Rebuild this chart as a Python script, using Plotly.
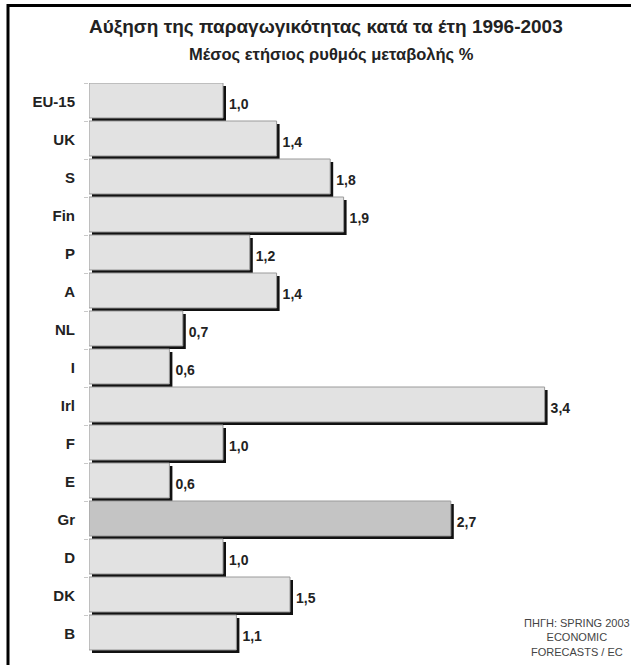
import plotly.graph_objects as go

categories = ["EU-15", "UK", "S", "Fin", "P", "A", "NL", "I", "Irl", "F", "E", "Gr", "D", "DK", "B"]
values = [1.0, 1.4, 1.8, 1.9, 1.2, 1.4, 0.7, 0.6, 3.4, 1.0, 0.6, 2.7, 1.0, 1.5, 1.1]
highlight = "Gr"

title = "Αύξηση της παραγωγικότητας κατά τα έτη 1996-2003"
subtitle = "Μέσος ετήσιος ρυθμός μεταβολής %"
source_lines = ["ΠΗΓΗ: SPRING 2003", "ECONOMIC", "FORECASTS / EC"]

W, H = 631, 665
ML, MR, MT, MB = 89, 6, 3, 12
PLOT_TOP = 83
XMAX = 4.0
FONT = "Liberation Sans, Arial, sans-serif"

px_per_unit = (W - ML - MR) / XMAX
shadow_shift = 3 / px_per_unit
paper_h = H - MT - MB
y_domain_top = 1 - (PLOT_TOP - MT) / paper_h

fills = ["#c4c4c4" if c == highlight else "#e2e2e2" for c in categories]

fig = go.Figure()
# shadow bars
fig.add_trace(go.Bar(
    y=categories, x=values, base=shadow_shift, orientation="h",
    width=0.92, offset=-0.42,
    marker=dict(color="#111111", line=dict(width=0)),
    texttemplate="<b>%{x:.1f}</b>", textposition="outside",
    textfont=dict(family=FONT, size=14, color="#222"),
    cliponaxis=False, hoverinfo="skip", showlegend=False,
))
# main bars
fig.add_trace(go.Bar(
    y=categories, x=values, orientation="h",
    width=0.92, offset=-0.5,
    marker=dict(color=fills, line=dict(width=1, color="#9a9a9a")),
    showlegend=False,
))

def px_x(p):
    return (p - ML) / (W - ML - MR)

def px_y(p):
    return 1 - (p - MT) / paper_h

fig.update_layout(
    width=W, height=H,
    margin=dict(l=ML, r=MR, t=MT, b=MB),
    barmode="overlay",
    separators=",.",
    plot_bgcolor="white", paper_bgcolor="white",
    font=dict(family=FONT, color="#222"),
    xaxis=dict(range=[0, XMAX], visible=False),
    yaxis=dict(
        domain=[0, y_domain_top],
        autorange="reversed", tickson="boundaries", ticks="outside",
        ticklen=4, tickcolor="#c8c8c8", showline=False, showgrid=False,
        tickfont=dict(family=FONT, size=15, color="#222", weight="bold"),
        ticklabelstandoff=13,
    ),
    annotations=[
        dict(text="<b>" + title + "</b>", x=px_x(326), y=px_y(27), xref="paper", yref="paper",
             showarrow=False, font=dict(size=19, family=FONT, color="#222"), xanchor="center", yanchor="middle"),
        dict(text="<b>" + subtitle + "</b>", x=px_x(331), y=px_y(54), xref="paper", yref="paper",
             showarrow=False, font=dict(size=16.5, family=FONT, color="#222"), xanchor="center", yanchor="middle"),
        dict(text="<br>".join(source_lines), x=px_x(577), y=px_y(637), xref="paper", yref="paper",
             showarrow=False, align="center", font=dict(size=11, family=FONT, color="#444"),
             xanchor="center", yanchor="middle"),
    ],
    shapes=[
        dict(type="rect", xref="paper", yref="paper", x0=px_x(7), x1=px_x(W), y0=px_y(7), y1=px_y(4),
             line=dict(width=0), fillcolor="black", layer="above"),
        dict(type="rect", xref="paper", yref="paper", x0=px_x(6.5), x1=px_x(9.5), y0=px_y(H), y1=px_y(4),
             line=dict(width=0), fillcolor="black", layer="above"),
    ],
)

fig.write_html("out.html", post_script="document.body.style.margin='0';document.body.style.overflow='hidden';window.scrollTo(0,0);",
               config={"displayModeBar": False})
